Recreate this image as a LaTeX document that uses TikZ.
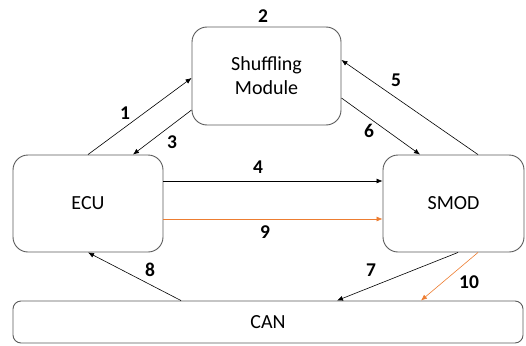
\documentclass[tikz,border=0pt]{standalone}
\usepackage{fontspec}
\setmainfont{Carlito}
\usepackage{xcolor}
\usetikzlibrary{arrows.meta}
\definecolor{msorange}{RGB}{237,125,49}
\definecolor{boxgray}{RGB}{90,90,90}
\tikzset{block/.style={draw=boxgray,line width=0.9pt,rounded corners=15pt,
  align=center,inner sep=0pt,font=\fontsize{20}{24}\selectfont},
 bus/.style={block,rounded corners=8pt},
 link/.style={draw,line width=0.6pt,-{Latex[length=6pt,width=5pt]}},
 hot/.style={link,draw=msorange,-{Latex[length=6pt,width=5pt,fill=msorange]}},
 num/.style={font=\fontsize{19.5}{24}\selectfont\bfseries,inner sep=0pt},
 }

\begin{document}
\begin{tikzpicture}[x=1pt,y=-1pt]
        \useasboundingbox (0,0) rectangle (526,345);
        \node[block,minimum width=149pt,minimum height=98pt] (shuf) at (266.5,76) {Shuffling\\Module};
        \node[block,minimum width=150pt,minimum height=97pt] (ecu) at (88,203.5) {ECU};
        \node[block,minimum width=141pt,minimum height=97pt] (smod) at (453.5,203.5) {SMOD};
        \node[bus,minimum width=510pt,minimum height=42pt] (can) at (268,322) {CAN};
        % arrows
        \draw[link] (ecu.north) -- ([yshift=-2pt]shuf.west);
        \draw[link] ([yshift=-34pt]shuf.west) -- ([xshift=45pt]ecu.north);
        \draw[link] ([xshift=24.5pt]smod.north) -- ([yshift=16pt]shuf.east);
        \draw[link] ([yshift=-22pt]shuf.east) -- ([xshift=-33.5pt]smod.north);
        \draw[link] ([yshift=22.5pt]ecu.east) -- ([yshift=22.5pt]smod.west);
        \draw[hot] ([yshift=-15.5pt]ecu.east) -- ([yshift=-15.5pt]smod.west);
        \draw[link] ([xshift=-87pt]can.north) -- (ecu.south);
        \draw[link] ([xshift=4.5pt]smod.south) -- ([xshift=69pt]can.north);
        \draw[hot] ([xshift=24.5pt]smod.south) -- ([xshift=153pt]can.north);
        % numbers
        \node[num] (n1) at (125,113) {1};
        \node[num] (n2) at (263,16) {2};
        \node[num] (n3) at (172,142) {3};
        \node[num] (n4) at (258,167) {4};
        \node[num] (n5) at (396,80) {5};
        \node[num] (n6) at (369,131) {6};
        \node[num] (n7) at (371,270) {7};
        \node[num] (n8) at (150,270) {8};
        \node[num] (n9) at (265,232) {9};
        \node[num] (n10) at (469,282) {10};
    \end{tikzpicture}
\end{document}
